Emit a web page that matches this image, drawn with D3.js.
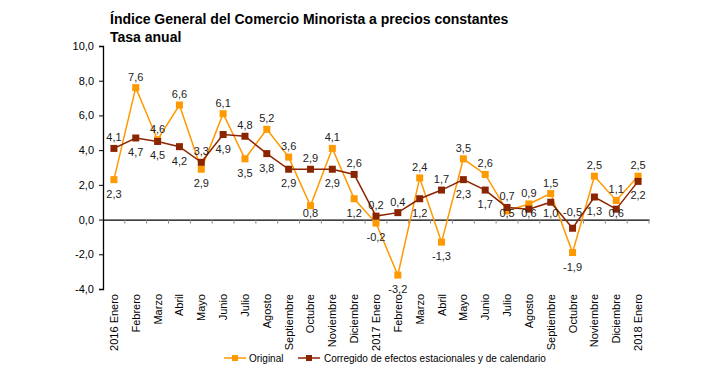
<!DOCTYPE html>
<html><head><meta charset="utf-8">
<script src="https://cdn.jsdelivr.net/npm/d3@7"></script>
<style>body{margin:0;background:#fff}svg{font-family:"Liberation Sans",Arial,sans-serif}</style>
</head><body><svg id="c" width="720" height="383"></svg>
<script>
const categories = ["2016 Enero","Febrero","Marzo","Abril","Mayo","Junio","Julio","Agosto","Septiembre","Octubre","Noviembre","Diciembre","2017 Enero","Febrero","Marzo","Abril","Mayo","Junio","Julio","Agosto","Septiembre","Octubre","Noviembre","Diciembre","2018 Enero"];
const original = [2.3,7.6,4.6,6.6,2.9,6.1,3.5,5.2,3.6,0.8,4.1,1.2,-0.2,-3.2,2.4,-1.3,3.5,2.6,0.5,0.9,1.5,-1.9,2.5,1.1,2.5];
const corregido = [4.1,4.7,4.5,4.2,3.3,4.9,4.8,3.8,2.9,2.9,2.9,2.6,0.2,0.4,1.2,1.7,2.3,1.7,0.7,0.6,1.0,-0.5,1.3,0.6,2.2];
const yTicks = [-4,-2,0,2,4,6,8,10];
const seriesNames = ["Original","Corregido de efectos estacionales y de calendario"];
const colors = ["#FF9900","#8B2500"];

const svg = d3.select("#c");
const fmt = v => d3.format(".1f")(v).replace(".", ",").replace("−","-");
const x = d3.scaleBand().domain(categories.map((c,i)=>i)).range([103,649]);
const y = d3.scaleLinear().domain([-4,10]).range([289,46]);
const cx = i => x(i) + x.bandwidth()/2;
const y0 = y(0);

// title
svg.append("text").attr("x",110).attr("y",24).attr("font-size",14).attr("font-weight","bold").text("Índice General del Comercio Minorista a precios constantes");
svg.append("text").attr("x",110).attr("y",42).attr("font-size",14).attr("font-weight","bold").text("Tasa anual");

// y axis
const ya = svg.append("g").attr("transform","translate(103,0)")
  .call(d3.axisLeft(y).tickValues(yTicks).tickSize(4).tickFormat(fmt));
ya.select(".domain").attr("stroke","#000").attr("stroke-width",1.3);
ya.selectAll("text").attr("font-size",11).attr("fill","#000").attr("font-family","Liberation Sans, Arial, sans-serif").attr("dx",-2);

// x axis at zero
const xa = svg.append("g").attr("transform",`translate(0,${y0})`)
  .call(d3.axisBottom(x).tickSize(0).tickFormat(""));
xa.select(".domain").attr("stroke","#000").attr("stroke-width",1.3);
xa.selectAll(".tick").remove();
const bounds = d3.range(1, categories.length+1).map(i => x(0) + i*x.step());
svg.append("g").selectAll("line").data(bounds).join("line")
  .attr("x1",d=>d).attr("x2",d=>d).attr("y1",y0).attr("y2",y0+4)
  .attr("stroke","#888").attr("stroke-width",1);

// category labels
svg.append("g").selectAll("text").data(categories).join("text")
  .attr("transform",(d,i)=>`translate(${cx(i)+4},294) rotate(-90)`)
  .attr("text-anchor","end").attr("font-size",11).attr("fill","#000").text(d=>d);

// series
const line = d3.line().x((d,i)=>cx(i)).y(d=>y(d));
[original, corregido].forEach((s,k)=>{
  svg.append("path").datum(s).attr("d",line).attr("fill","none").attr("stroke",colors[k]).attr("stroke-width",1.5);
});
[original, corregido].forEach((s,k)=>{
  svg.append("g").selectAll("rect").data(s).join("rect")
    .attr("x",(d,i)=>cx(i)-3.5).attr("y",d=>y(d)-3.5).attr("width",7).attr("height",7).attr("fill",colors[k]);
});
// labels (avoid crossing the zero axis line)
function labelY(d, above){
  const py = y(d);
  if (above){
    let b = py - 7;
    if (py > y0 && b > y0 - 4) b = y0 - 4;
    return b;
  } else {
    let b = py + 18;
    if (py < y0 && b > y0 - 3) b = y0 - 3;
    return b;
  }
}
[original, corregido].forEach((s,k)=>{
  const other = k===0 ? corregido : original;
  svg.append("g").selectAll("text").data(s).join("text")
    .attr("x",(d,i)=>cx(i)).attr("y",(d,i)=> labelY(d, d > other[i] || (d===other[i] && k===0)))
    .attr("text-anchor","middle").attr("font-size",11).attr("fill","#222").text(d=>fmt(d));
});

// legend
const lg = [{x:224, tx:249},{x:298, tx:324}];
lg.forEach((l,k)=>{
  svg.append("line").attr("x1",l.x).attr("x2",l.x+22).attr("y1",358).attr("y2",358).attr("stroke",colors[k]).attr("stroke-width",1.5);
  svg.append("rect").attr("x",l.x+8).attr("y",355).attr("width",6).attr("height",6).attr("fill",colors[k]);
  svg.append("text").attr("x",l.tx).attr("y",362).attr("font-size",10).attr("fill","#000").text(seriesNames[k]);
});
</script></body></html>
